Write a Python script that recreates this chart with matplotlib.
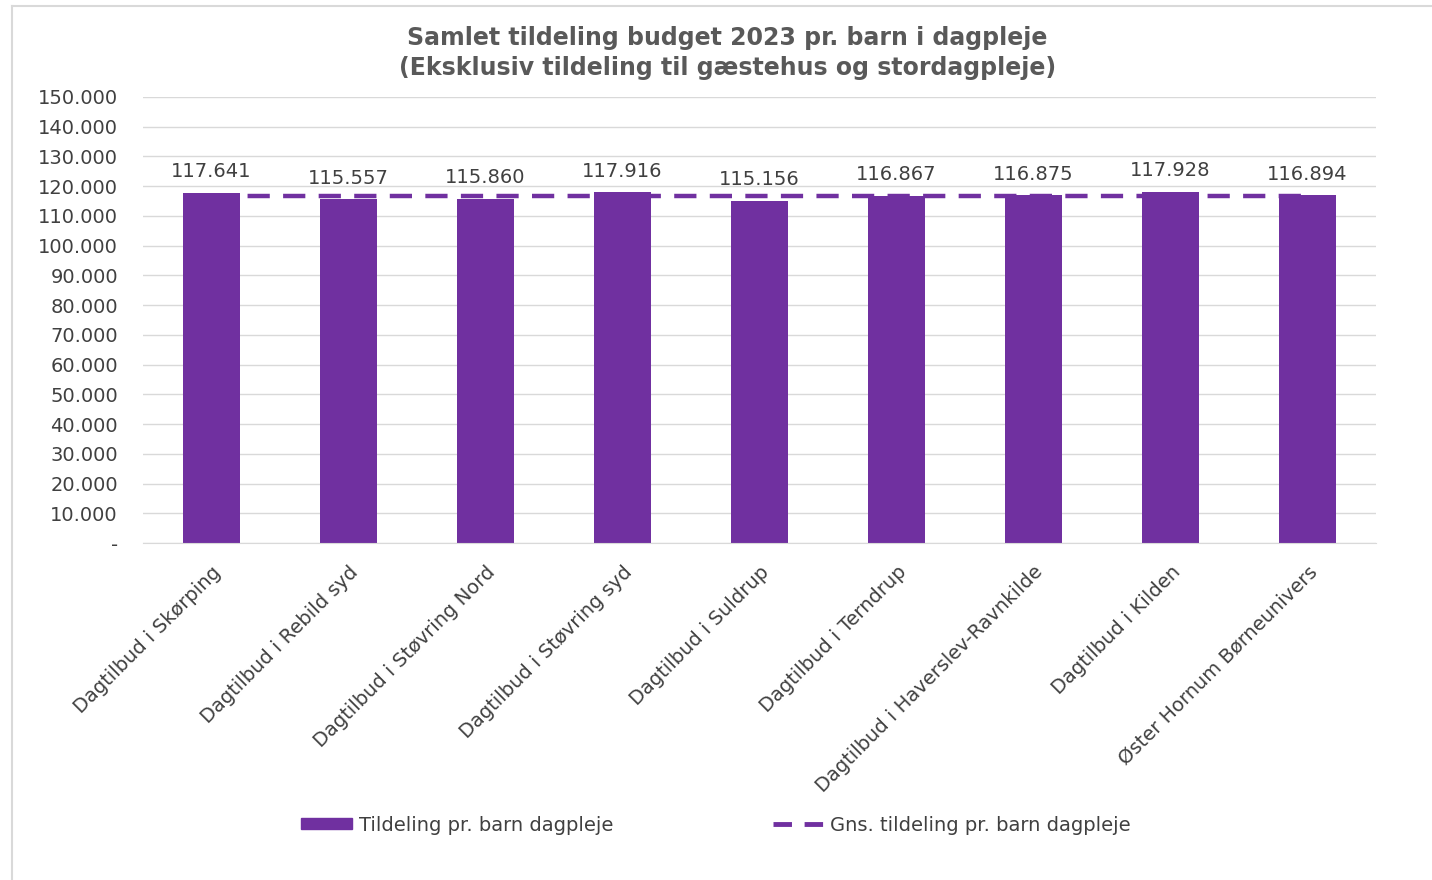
import matplotlib
matplotlib.use("Agg")
import matplotlib.pyplot as plt
from matplotlib.lines import Line2D
from matplotlib.patches import Patch

categories = ["Dagtilbud i Skørping", "Dagtilbud i Rebild syd", "Dagtilbud i Støvring Nord",
              "Dagtilbud i Støvring syd", "Dagtilbud i Suldrup", "Dagtilbud i Terndrup",
              "Dagtilbud i Haverslev-Ravnkilde", "Dagtilbud i Kilden", "Øster Hornum Børneunivers"]
values = [117641, 115557, 115860, 117916, 115156, 116867, 116875, 117928, 116894]
average = [116744] * 9
yticks = list(range(0, 150001, 10000))

def fmt(v):
    return "-" if v == 0 else f"{v:,.0f}".replace(",", ".")

purple = "#7030A0"
txt = "#404040"
plt.rcParams['font.family'] = ['DejaVu Sans']
fs = 14

fig = plt.figure(figsize=(14.32, 8.8), dpi=100)
ax = fig.add_axes([143/1432, 1-543/880, (1376-143)/1432, (543-97)/880])

x = list(range(len(categories)))
ax.bar(x, values, width=0.41, color=purple, zorder=2)
ax.plot(x, average, color=purple, lw=3.2, ls=(0, (5, 3)), zorder=3)

for xi, v in zip(x, values):
    ax.text(xi, v + 4000, fmt(v), ha="center", va="bottom", fontsize=fs, color=txt)

ax.set_xlim(-0.5, len(categories) - 0.5)
ax.set_ylim(0, 150000)
ax.set_yticks(yticks)
ax.set_yticklabels([fmt(v) for v in yticks], fontsize=fs, color=txt)
ax.yaxis.grid(True, color="#D9D9D9", lw=1, zorder=0)
ax.set_axisbelow(True)
for s in ["top", "right", "left"]:
    ax.spines[s].set_visible(False)
ax.spines["bottom"].set_color("#D9D9D9")
ax.tick_params(axis="both", length=0)
ax.tick_params(axis="y", pad=18)
ax.set_xticks(x)
ax.set_xticklabels(categories, rotation=45, ha="right", va="top", rotation_mode="anchor",
                   fontsize=fs, color=txt)
ax.tick_params(axis="x", pad=14)

fig.text(0.508, 1-38/880, "Samlet tildeling budget 2023 pr. barn i dagpleje",
         ha="center", va="center", fontsize=17, fontweight="bold", color="#595959")
fig.text(0.508, 1-68/880, "(Eksklusiv tildeling til gæstehus og stordagpleje)",
         ha="center", va="center", fontsize=17, fontweight="bold", color="#595959")

handles = [Patch(color=purple), Line2D([0], [0], color=purple, lw=3.5, ls=(0, (3.8, 2.6)))]
labels = ["Tildeling pr. barn dagpleje", "Gns. tildeling pr. barn dagpleje"]
leg = fig.legend(handles, labels, loc="center", bbox_to_anchor=(0.5, 1-825/880), ncol=2,
                 frameon=False, fontsize=fs, labelcolor=txt, columnspacing=8.2,
                 handlelength=2.6, handletextpad=0.35, handleheight=0.5)

fig.add_artist(Line2D([12/1432, 12/1432], [0, 1-6/880], color="#D9D9D9", lw=1.5))
fig.add_artist(Line2D([12/1432, 1], [1-6/880, 1-6/880], color="#D9D9D9", lw=1.5))

fig.savefig("out.png", dpi=100, facecolor="white")
